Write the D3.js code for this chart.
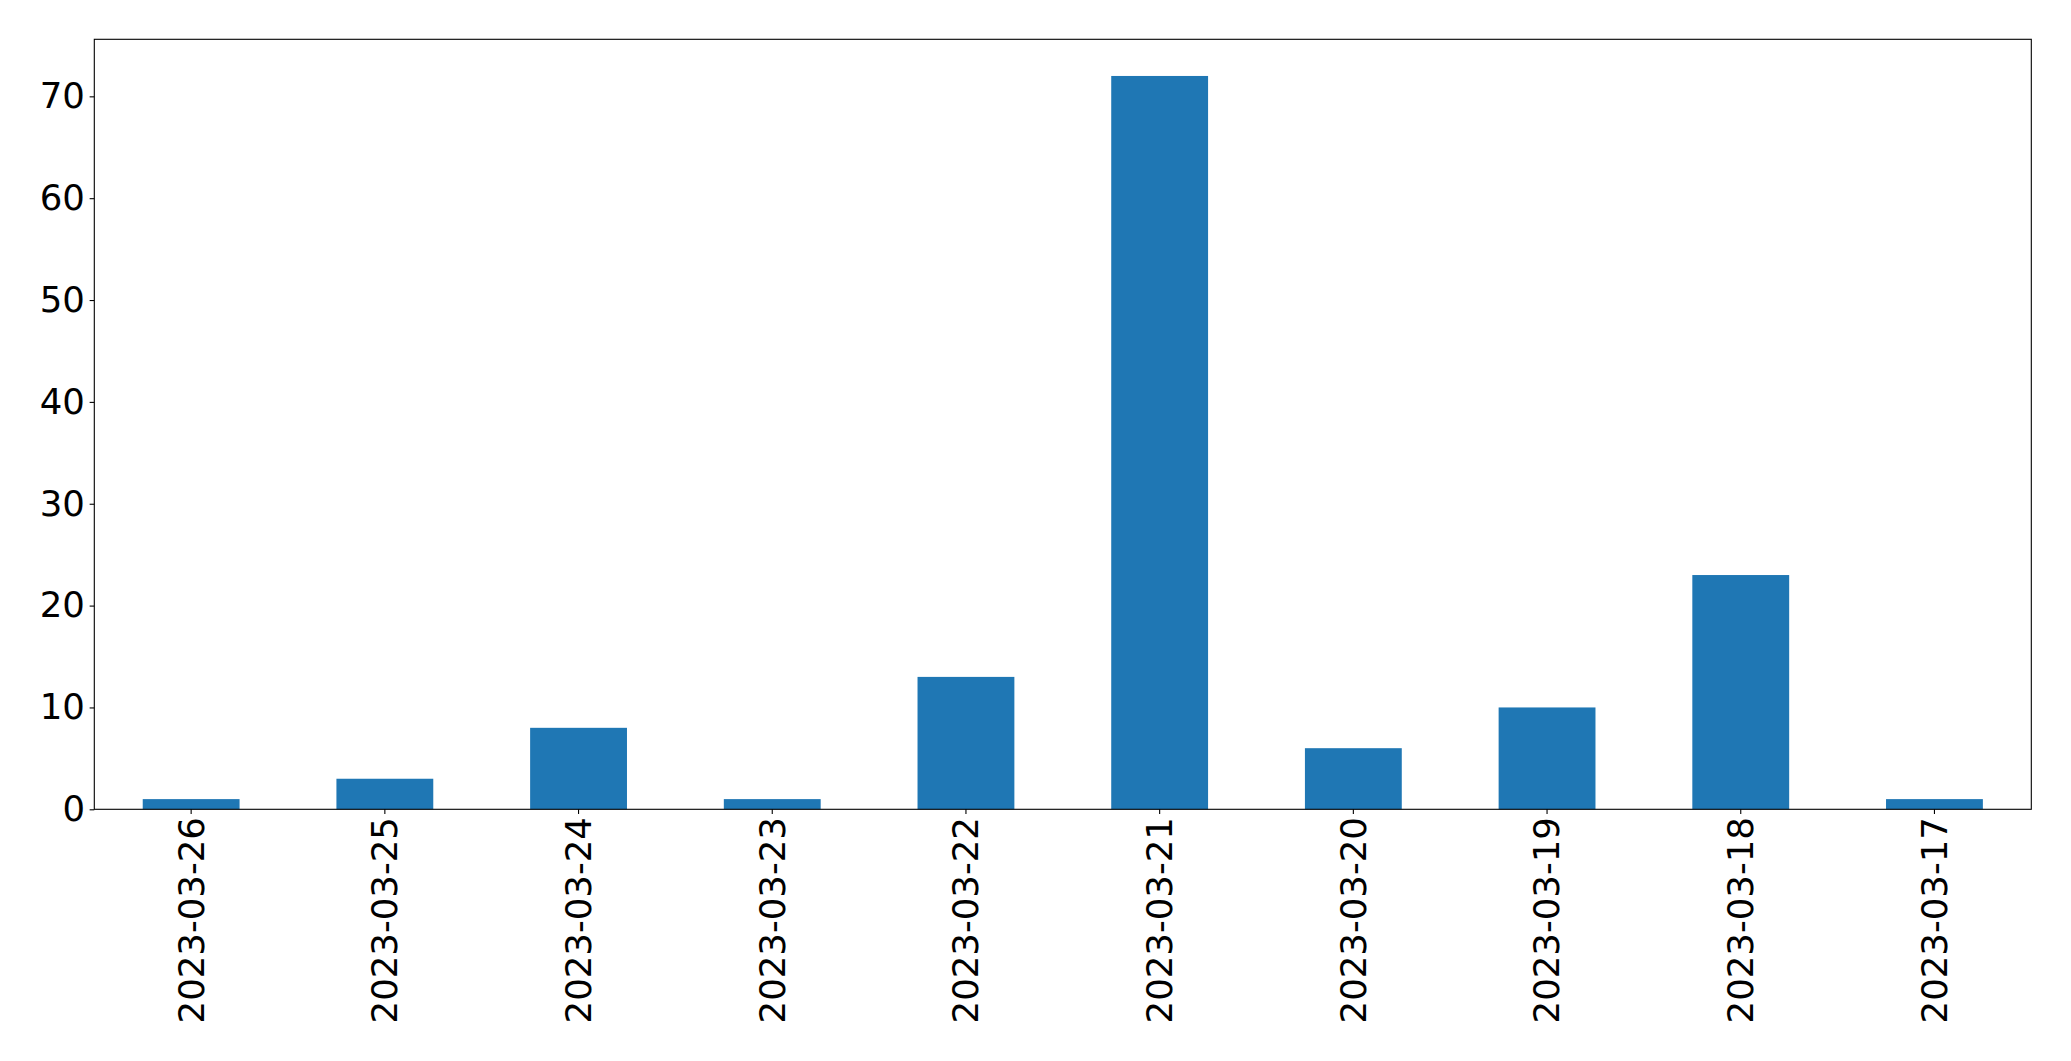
<!DOCTYPE html>
<html><head><meta charset="utf-8">
<script src="https://cdn.jsdelivr.net/npm/d3@7"></script>
<style>html,body{margin:0;padding:0;background:#fff;} svg{display:block;}</style>
</head><body>
<svg id="chart" width="2071" height="1061"></svg>
<script>
const categories = ["2023-03-26","2023-03-25","2023-03-24","2023-03-23","2023-03-22","2023-03-21","2023-03-20","2023-03-19","2023-03-18","2023-03-17"];
const values = [1, 3, 8, 1, 13, 72, 6, 10, 23, 1];
const yTicks = [0, 10, 20, 30, 40, 50, 60, 70];

const W = 2071, H = 1061;
const m = {left: 94.3, right: W - 2031.3, top: 39.3, bottom: H - 809.3};
const svg = d3.select("#chart");
const fontSize = 35.5;
const font = "DejaVu Sans";

const x = d3.scaleBand().domain(categories).range([m.left, W - m.right]).paddingInner(0.5).paddingOuter(0.25);
const yMax = d3.max(values) * 1.05;
const y = d3.scaleLinear().domain([0, yMax]).range([H - m.bottom, m.top]);

svg.append("g").selectAll("rect").data(values).join("rect")
  .attr("x", (d, i) => x(categories[i]))
  .attr("width", x.bandwidth())
  .attr("y", d => y(d))
  .attr("height", d => y(0) - y(d))
  .attr("fill", "#1f77b4");

const tickLen = 4.67, pad = 4.67;
const yAxis = svg.append("g").attr("transform", `translate(${m.left},0)`)
  .call(d3.axisLeft(y).tickValues(yTicks).tickSize(tickLen).tickPadding(pad).tickFormat(d3.format("d")));
const xAxis = svg.append("g").attr("transform", `translate(0,${H - m.bottom})`)
  .call(d3.axisBottom(x).tickSize(tickLen).tickPadding(pad));
[yAxis, xAxis].forEach(a => {
  a.select(".domain").remove();
  a.selectAll(".tick line").attr("stroke", "#000").attr("stroke-width", 1.1);
  a.selectAll("text").attr("font-family", font).attr("font-size", fontSize).attr("fill", "#000");
});
xAxis.selectAll(".tick text")
  .attr("transform", "rotate(-90)")
  .attr("text-anchor", "end")
  .attr("dy", "0.35em")
  .attr("x", -(tickLen + pad - 1.5))
  .attr("y", 0);

svg.append("rect")
  .attr("x", m.left).attr("y", m.top)
  .attr("width", W - m.left - m.right).attr("height", H - m.top - m.bottom)
  .attr("fill", "none").attr("stroke", "#000").attr("stroke-width", 1.1);
</script>
</body></html>
